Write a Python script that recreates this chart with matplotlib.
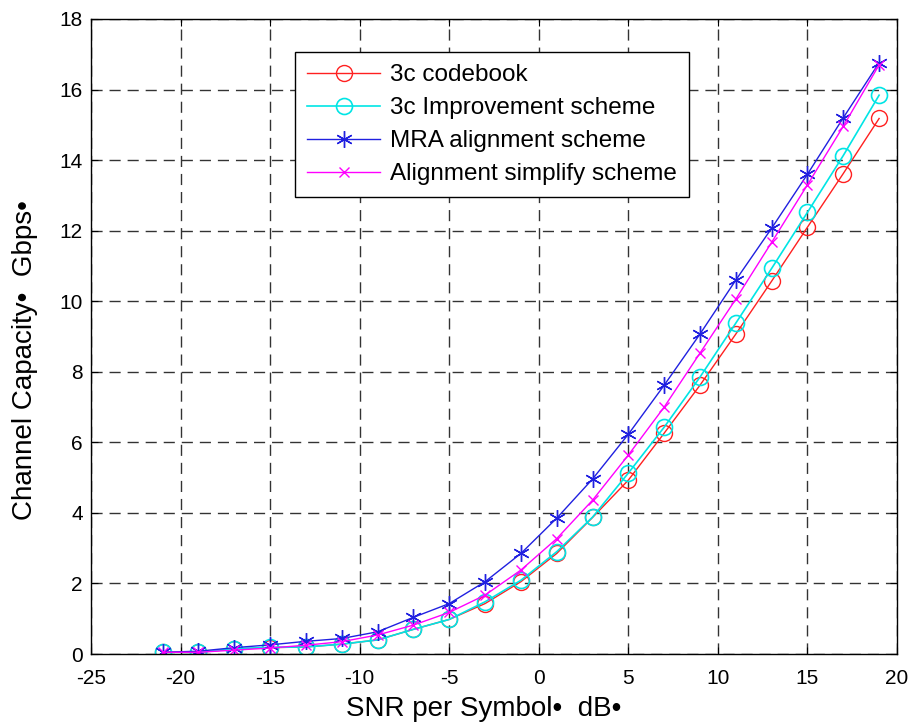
import matplotlib
matplotlib.use("Agg")
import matplotlib.pyplot as plt

snr = [-21, -19, -17, -15, -13, -11, -9, -7, -5, -3, -1, 1, 3, 5, 7, 9, 11, 13, 15, 17, 19]

codebook = [0.05, 0.05, 0.14, 0.18, 0.2, 0.28, 0.4, 0.7, 0.98, 1.43, 2.05, 2.85, 3.87, 4.93, 6.26, 7.62, 9.07, 10.57, 12.1, 13.62, 15.18]
improvement = [0.05, 0.05, 0.15, 0.19, 0.2, 0.28, 0.4, 0.7, 0.98, 1.48, 2.09, 2.9, 3.88, 5.13, 6.43, 7.85, 9.38, 10.93, 12.52, 14.13, 15.84]
mra = [0.05, 0.08, 0.18, 0.26, 0.36, 0.44, 0.63, 1.04, 1.43, 2.05, 2.85, 3.85, 4.96, 6.23, 7.62, 9.07, 10.6, 12.07, 13.6, 15.2, 16.76]
simplify = [0.05, 0.05, 0.11, 0.17, 0.25, 0.35, 0.54, 0.82, 1.18, 1.67, 2.38, 3.27, 4.36, 5.64, 7.0, 8.53, 10.06, 11.67, 13.3, 14.96, 16.7]

labels = ["3c codebook", "3c Improvement scheme", "MRA alignment scheme", "Alignment simplify scheme"]

plt.rcParams['font.family'] = ['Liberation Sans', 'DejaVu Sans']
plt.rcParams['axes.unicode_minus'] = False

fig = plt.figure(figsize=(9.13, 7.25), dpi=100)
ax = fig.add_axes([0.0997, 0.0979, 0.8828, 0.8759])

ax.plot(snr, codebook, color='#ff2020', lw=1, marker='o', ms=11.5, mfc='none', mew=1, label=labels[0])
ax.plot(snr, improvement, color='#00e5e5', lw=1.2, marker='o', ms=11.5, mfc='none', mew=1.2, label=labels[1])
ax.plot(snr, mra, color='#2020e0', lw=1, marker=(6, 2, 0), ms=12, mew=1, label=labels[2])
ax.plot(snr, simplify, color='#ff00ff', lw=1, marker='x', ms=7, mew=1, label=labels[3])

ax.set_xlim(-25, 20)
ax.set_ylim(0, 18)
ax.set_xticks(range(-25, 21, 5))
ax.set_yticks(range(0, 19, 2))
ax.grid(True, color='#333333', linestyle=(0, (8, 5)), lw=1)
ax.tick_params(direction='in', top=True, right=True, labelsize=15, length=5)
ax.tick_params(axis='y', pad=6)
ax.tick_params(axis='x', pad=11)
for s in ax.spines.values():
    s.set_linewidth(1)

ax.set_xlabel("SNR per Symbol\u2022  dB\u2022", fontsize=20)
ax.set_ylabel("Channel Capacity\u2022  Gbps\u2022", fontsize=20)
ax.xaxis.set_label_coords(0.4876, -0.066)
ax.yaxis.set_label_coords(-0.066, 0.463)

leg = ax.legend(loc='upper left', bbox_to_anchor=(0.253, 0.948), fontsize=17.5,
                fancybox=False, framealpha=1, edgecolor='black', borderpad=0.5,
                handlelength=3.0, handletextpad=0.4, labelspacing=0.45,
                borderaxespad=0)
leg.get_frame().set_linewidth(1)

fig.savefig("out.png", dpi=100)
